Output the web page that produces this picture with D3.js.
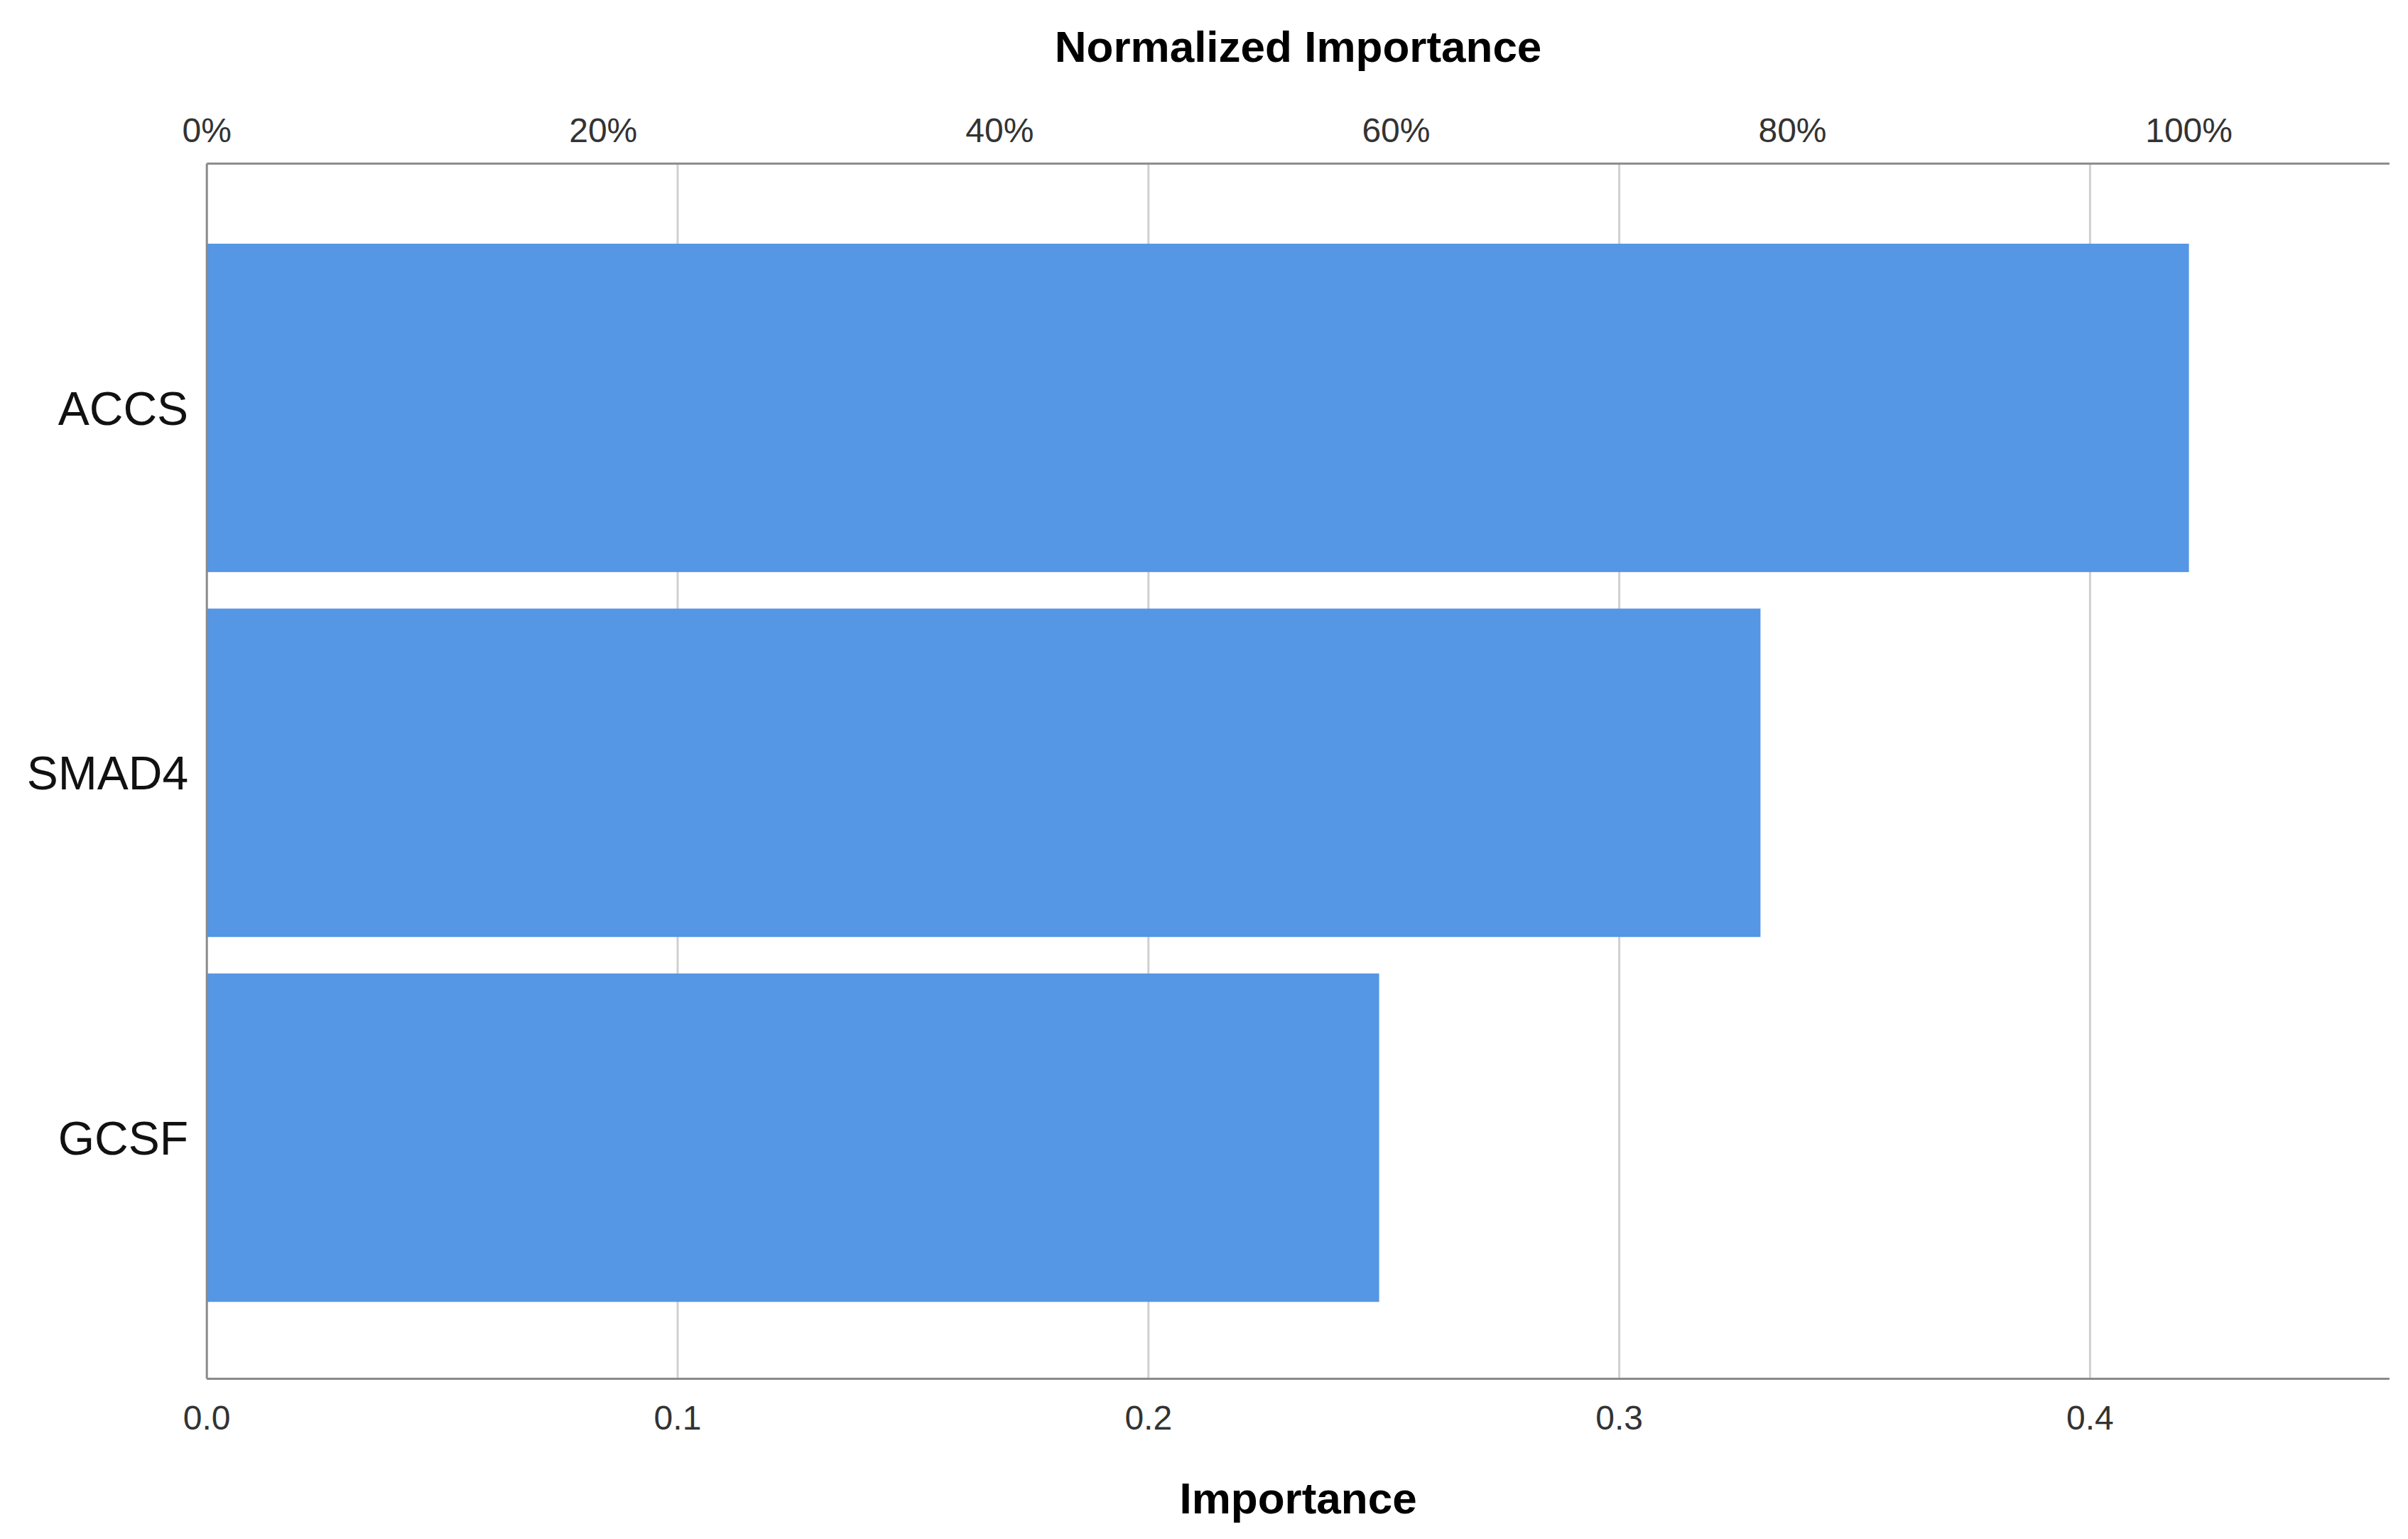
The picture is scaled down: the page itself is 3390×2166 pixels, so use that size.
<!DOCTYPE html>
<meta charset="utf-8">
<head>
<title>Importance</title>
<script src="https://d3js.org/d3.v7.min.js"></script>
<style>
  body { margin: 0; background: white; }
  text { font-family: "Liberation Sans", Arial, sans-serif; }
</style>
</head>
<body>
<div id="chart"></div>
<script>
  let categories = ["ACCS", "SMAD4", "GCSF"];
  let importance = [0.421, 0.330, 0.249];
  let bottomTicks = [0, 0.1, 0.2, 0.3, 0.4];
  let topTicks = [0, 0.2, 0.4, 0.6, 0.8, 1.0];

  let s = 3390 / 1560;
  let w = 3390, h = 2166;
  let plotLeft = 134 * s, plotRight = 1548 * s, plotTop = 106 * s, plotBottom = 893 * s;

  let svg = d3.select("#chart").append("svg")
              .attr("width", w).attr("height", h);

  let x = d3.scaleLinear().domain([0, 0.4636]).range([plotLeft, plotRight]);
  let xn = d3.scaleLinear().domain([0, 1]).range([plotLeft, x(importance[0])]);
  let y = d3.scaleBand().domain(categories).range([146 * s, 855 * s])
            .paddingInner(0.1).paddingOuter(0.05);

  // gridlines
  svg.selectAll(".grid").data(bottomTicks.slice(1)).enter().append("line")
     .attr("x1", d => x(d)).attr("x2", d => x(d))
     .attr("y1", plotTop).attr("y2", plotBottom)
     .style("stroke", "#d0d0d0").style("stroke-width", 3);

  svg.selectAll("rect").data(categories).enter().append("rect")
     .attr("x", plotLeft)
     .attr("y", d => y(d))
     .attr("width", (d, i) => x(importance[i]) - plotLeft)
     .attr("height", y.bandwidth())
     .style("fill", "#5596e5");

  // axis lines
  let axisColor = "#8a8a8a";
  svg.append("line").attr("x1", plotLeft).attr("x2", plotRight).attr("y1", plotTop).attr("y2", plotTop)
     .style("stroke", axisColor).style("stroke-width", 3);
  svg.append("line").attr("x1", plotLeft).attr("x2", plotRight).attr("y1", plotBottom).attr("y2", plotBottom)
     .style("stroke", axisColor).style("stroke-width", 3);
  svg.append("line").attr("x1", plotLeft).attr("x2", plotLeft).attr("y1", plotTop).attr("y2", plotBottom)
     .style("stroke", axisColor).style("stroke-width", 3);

  svg.selectAll(".bt").data(bottomTicks).enter().append("text")
     .attr("x", d => x(d)).attr("y", 926 * s)
     .attr("text-anchor", "middle").style("font-size", "48px").style("fill", "#333")
     .text(d => d3.format(".1f")(d));

  svg.selectAll(".tt").data(topTicks).enter().append("text")
     .attr("x", d => xn(d)).attr("y", 92 * s)
     .attr("text-anchor", "middle").style("font-size", "48px").style("fill", "#333")
     .text(d => d3.format(".0%")(d));

  svg.selectAll(".cat").data(categories).enter().append("text")
     .attr("x", 122 * s).attr("y", d => y(d) + y.bandwidth() / 2)
     .attr("dy", "0.36em").attr("text-anchor", "end")
     .style("font-size", "66px").style("fill", "#111")
     .text(d => d);

  svg.append("text").attr("x", (plotLeft + plotRight) / 2).attr("y", 40 * s)
     .attr("text-anchor", "middle").style("font-size", "62px").style("font-weight", "bold")
     .text("Normalized Importance");
  svg.append("text").attr("x", (plotLeft + plotRight) / 2).attr("y", 980 * s)
     .attr("text-anchor", "middle").style("font-size", "62px").style("font-weight", "bold")
     .text("Importance");
</script>
</body>
